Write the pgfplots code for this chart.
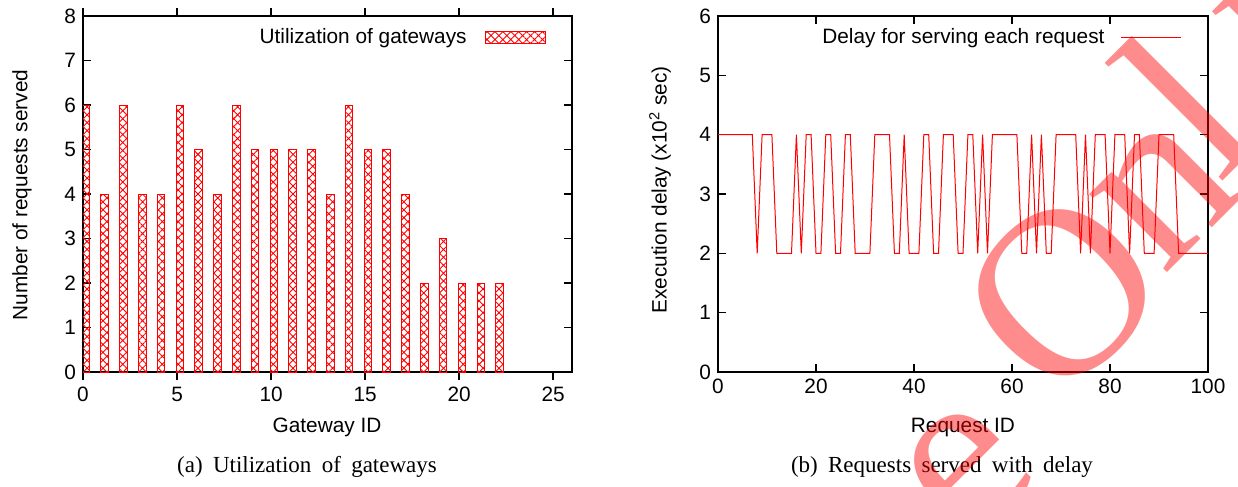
\documentclass[border=0pt]{standalone}
\usepackage{fontspec}
\setmainfont{Liberation Sans}
\newfontfamily\capfont{Liberation Serif}
\usepackage{pgfplots}
\pgfplotsset{compat=1.18}
\usetikzlibrary{patterns.meta}
\newcommand{\lblfont}{\fontsize{10.4}{12}\selectfont}
\pgfplotsset{
  gp/.style={
    scale only axis,
    axis line style={line width=0.8pt},
    tick align=inside,
    major tick length=4pt,
    tick style={line width=0.8pt,black},
    tick label style={font=\lblfont},
    /pgf/number format/assume math mode=true,
    legend style={draw=none,fill=none,font=\lblfont,inner sep=0pt,
      at={(rel axis cs:1,1)},anchor=north east,xshift=-13pt,yshift=-4pt},
    legend plot pos=right,
  }
}
\begin{document}
\begin{tikzpicture}
\useasboundingbox (0,0) rectangle (619pt,-243.5pt);
% ---------- panel (a)
\begin{axis}[gp,
  at={(41.5pt,-186pt)}, anchor=south west,
  width=244.5pt, height=178pt,
  xmin=0, xmax=26, ymin=0, ymax=8,
  xtick={0,5,...,25}, ytick={0,1,...,8},
  ybar, bar width=0.4, bar shift=0.15,
  legend image code/.code={\path (0pt,0pt); \draw[#1] (7pt,-3pt) rectangle (37pt,3pt);},
]
\addplot[draw=red, line width=0.5pt, pattern={Hatch[angle=45,distance=2.8pt,line width=0.45pt]}, pattern color=red]
coordinates {(0,6) (1,4) (2,6) (3,4) (4,4) (5,6) (6,5) (7,4) (8,6) (9,5) (10,5) (11,5) (12,5) (13,4) (14,6) (15,5) (16,5) (17,4) (18,2) (19,3) (20,2) (21,2) (22,2)};
\addlegendentry{Utilization of gateways}
\end{axis}
% ---------- panel (b)
\begin{axis}[gp,
  at={(359pt,-186pt)}, anchor=south west,
  width=245pt, height=178pt,
  xmin=0, xmax=100, ymin=0, ymax=6,
  xtick={0,20,...,100}, ytick={0,1,...,6},
  legend image code/.code={\path (0pt,0pt); \draw[#1,draw=red,line width=0.6pt] (6pt,0pt) -- (36pt,0pt);},
]
\addplot[red, line width=0.5pt] coordinates {
(0,4) (1,4) (2,4) (3,4) (4,4) (5,4) (6,4) (7,4) (8,2) (9,4) (10,4) (11,4) (12,2) (13,2) (14,2) (15,2) (16,4) (17,2) (18,4) (19,4)
(20,2) (21,2) (22,4) (23,4) (24,2) (25,2) (26,4) (27,4) (28,2) (29,2) (30,2) (31,2) (32,4) (33,4) (34,4) (35,4) (36,2) (37,2) (38,4) (39,2)
(40,2) (41,2) (42,4) (43,4) (44,2) (45,2) (46,4) (47,4) (48,4) (49,2) (50,2) (51,4) (52,4) (53,2) (54,4) (55,2) (56,4) (57,4) (58,4) (59,4)
(60,4) (61,4) (62,2) (63,2) (64,4) (65,2) (66,4) (67,2) (68,2) (69,4) (70,4) (71,4) (72,4) (73,4) (74,2) (75,4) (76,2) (77,4) (78,4) (79,4)
(80,2) (81,4) (82,4) (83,4) (84,2) (85,4) (86,4) (87,2) (88,2) (89,2) (90,4) (91,4) (92,4) (93,4) (94,2) (95,2) (96,2) (97,2) (98,2) (99,2) (100,2)};
\addlegendentry{Delay for serving each request}
\end{axis}
% ---------- labels
\node[font=\lblfont] at (163.5pt,-213.5pt) {Gateway ID};
\node[font=\lblfont] at (481.5pt,-213.5pt) {Request ID};
\node[font=\lblfont,rotate=90] at (11pt,-97.5pt) {Number of requests served};
\node[font=\lblfont,rotate=90] at (330pt,-95pt) {Execution delay (x10\textsuperscript{2} sec)};
% ---------- captions
\node[font=\capfont\fontsize{11.5}{13}\selectfont] at (153.5pt,-233.5pt) {\spaceskip=0.45em (a) Utilization of gateways};
\node[font=\capfont\fontsize{11.5}{13}\selectfont] at (471pt,-233.5pt) {\spaceskip=0.45em (b) Requests served with delay};
% ---------- watermark
\begin{scope}[every node/.style={text=red,opacity=0.45,font=\capfont\fontsize{120}{120}\selectfont,rotate=45,inner sep=0pt}]
\node at (484pt,-236pt) {e};
\node at (531pt,-146.5pt) {O};
\node at (583pt,-97pt) {n};
\node at (592pt,-51pt) {l};
\node at (626pt,-8pt) {i};
\end{scope}
\end{tikzpicture}
\end{document}
